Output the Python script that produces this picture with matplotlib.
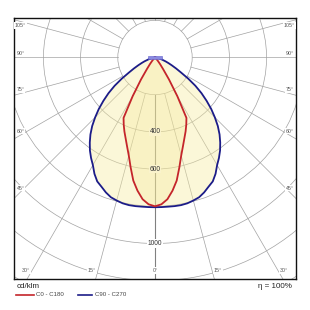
import numpy as np
import matplotlib.pyplot as plt
from matplotlib.patches import Circle, Rectangle
from matplotlib.lines import Line2D

plt.rcParams['font.family'] = ['Liberation Sans', 'DejaVu Sans']

# luminous intensity, cd/klm, by angle from nadir
gamma_c0 = [0, 2.5, 5, 7.5, 10, 12.5, 15, 17.5, 20, 22.5, 25, 27.5, 30, 32.5, 35,
            37.5, 40, 45, 50, 55, 90]
cd_c0 = [800, 790, 765, 722, 672, 605, 545, 500, 462, 430, 398, 366, 240, 140, 75,
         45, 25, 8, 2, 0, 0]
gamma_c90 = [0, 2.5, 5, 7.5, 10, 12.5, 15, 17.5, 20, 22.5, 25, 27.5, 30, 32.5, 35,
             37.5, 40, 42.5, 45, 47.5, 50, 52.5, 55, 57.5, 60, 62.5, 65, 67.5, 70,
             75, 80, 85, 90]
cd_c90 = [805, 805, 805, 806, 806, 803, 796, 788, 772, 752, 735, 705, 668, 640, 610,
          576, 540, 500, 455, 410, 362, 315, 265, 212, 162, 128, 100, 78, 60,
          33, 15, 5, 0]

rings = [200, 400, 600, 800, 1000, 1200, 1400]
ring_labels = [400, 600, 1000]
side_angles = [45, 60, 75, 90, 105]
bottom_angles = [0, 15, 30]

px = 200 / 37.2  # cd/klm per pixel
red = '#c4252b'
blue = '#1c1c88'
grid = '#a2a2a2'


def outline(gamma, cd):
    g = np.radians(gamma)
    cd = np.asarray(cd, dtype=float)
    xr = cd * np.sin(g)
    y = -cd * np.cos(g)
    return np.concatenate([-xr[::-1], xr]), np.concatenate([y[::-1], y])


fig = plt.figure(figsize=(3.1, 3.1), dpi=100)
ax = fig.add_axes([14 / 310, 31 / 310, 282 / 310, 261 / 310])
ax.set_xlim(-141 * px, 141 * px)
ax.set_ylim(-221.5 * px, 39.5 * px)
ax.set_xticks([])
ax.set_yticks([])
for sp in ax.spines.values():
    sp.set_color('#111111')
    sp.set_linewidth(1.0)

# polar grid
for r in rings:
    ax.add_patch(Circle((0, 0), r, fill=False, ec=grid, lw=0.5, zorder=1))
for a in range(-165, 181, 15):
    g = np.radians(a)
    c = '#808080' if a == 0 else grid
    ax.plot([200 * np.sin(g), 3000 * np.sin(g)], [-200 * np.cos(g), -3000 * np.cos(g)],
            color=c, lw=0.8 if a == 0 else 0.5, zorder=1)

xb, yb = outline(gamma_c90, cd_c90)
xr, yr = outline(gamma_c0, cd_c0)
ax.fill(xb, yb, color='#f7ec9e', alpha=0.4, lw=0, zorder=2)
ax.fill(xr, yr, color='#f5e68c', alpha=0.25, lw=0, zorder=2)
ax.plot(xb, yb, color=blue, lw=1.3, zorder=4)
ax.plot(xr, yr, color=red, lw=1.3, zorder=4)

# luminaire
ax.add_patch(Rectangle((-38, -7), 76, 15, fc='#8a8ae0', ec='#6060cc', lw=0.4, zorder=5))

for v in ring_labels:
    fc = '#faf3cc' if v < 800 else 'white'
    ax.text(0, -v, str(v), ha='center', va='center', fontsize=4.8, color='#333333',
            bbox=dict(fc=fc, ec='none', pad=0.4), zorder=6)

lab_kw = dict(ha='center', va='center', fontsize=3.8, color='#555555',
              bbox=dict(fc='white', ec='none', pad=0.4), zorder=6)
for a in side_angles:
    g = np.radians(a)
    xl = 134.5 * px
    yl = -xl / np.tan(g)
    yl -= np.sign(yl) * 4 * px
    ax.text(-xl, yl, f'{a}°', **lab_kw)
    ax.text(xl, yl, f'{a}°', **lab_kw)
for a in bottom_angles:
    yl = -213 * px
    xl = 213 * px * np.tan(np.radians(a)) + (6 * px if a else 0)
    ax.text(-xl, yl, f'{a}°', **lab_kw)
    if a:
        ax.text(xl, yl, f'{a}°', **lab_kw)

# captions and legend
fig.text(17 / 310, 1 - 287 / 310, 'cd/klm', fontsize=5.8, color='#222222', va='center')
fig.text(292 / 310, 1 - 287 / 310, 'η = 100%', fontsize=5.8, color='#222222',
         va='center', ha='right')
yl = 1 - 294.5 / 310
fig.add_artist(Line2D([16 / 310, 34 / 310], [yl, yl], color=red, lw=1.2))
fig.text(36 / 310, yl, 'C0 - C180', fontsize=4.4, color='#444444', va='center')
fig.add_artist(Line2D([78 / 310, 92 / 310], [yl, yl], color=blue, lw=1.2))
fig.text(95 / 310, yl, 'C90 - C270', fontsize=4.4, color='#444444', va='center')

fig.savefig('out.png', dpi=100)
